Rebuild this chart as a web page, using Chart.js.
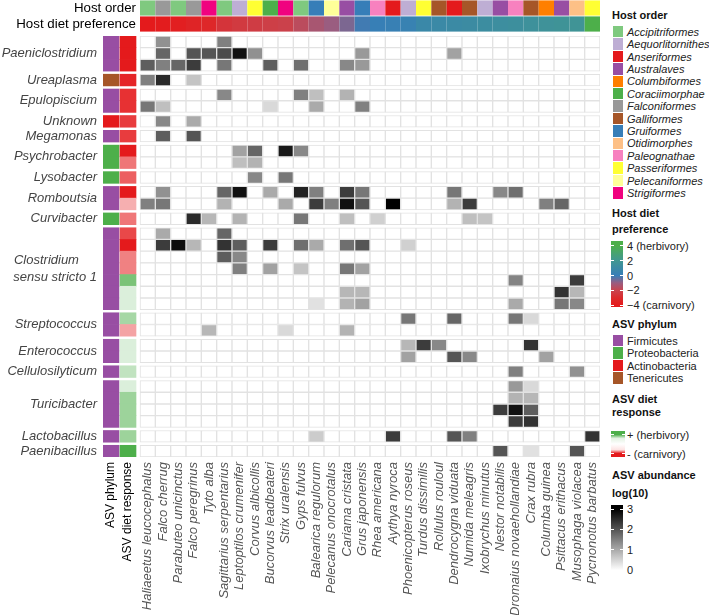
<!DOCTYPE html>
<html>
<head>
<meta charset="utf-8">
<script src="https://cdn.jsdelivr.net/npm/chart.js@4.4.1/dist/chart.umd.min.js"></script>
<style>
  body { margin: 0; background: #fff; font-family: "Liberation Sans", Arial, sans-serif; }
  #wrap { position: relative; width: 709px; height: 615px; overflow: hidden; }
  #topBox { position: absolute; left: 0; top: 0; width: 600px; height: 32px; }
  #mainBox { position: absolute; left: 0; top: 33px; width: 600px; height: 582px; }
  .lg { position: absolute; font-size: 11px; line-height: 14px; color: #222; white-space: nowrap; }
  .lt { font-weight: bold; color: #111; }
  .it { font-style: italic; }
  .bx { position: absolute; }
</style>
</head>
<body>
<div id="wrap">
  <div id="topBox"><canvas id="topChart"></canvas></div>
  <div id="mainBox"><canvas id="mainChart"></canvas></div>
</div>
<script>
// ---- data ----
const hosts = ["Haliaeetus leucocephalus", "Falco cherrug", "Parabuteo unicinctus", "Falco peregrinus", "Tyto alba",
  "Sagittarius serpentarius", "Leptoptilos crumenifer", "Corvus albicollis", "Bucorvus leadbeateri", "Strix uralensis",
  "Gyps fulvus", "Balearica regulorum", "Pelecanus onocrotalus", "Cariama cristata", "Grus japonensis",
  "Rhea americana", "Aythya nyroca", "Phoenicopterus roseus", "Turdus dissimilis", "Rollulus rouloul",
  "Dendrocygna viduata", "Numida meleagris", "Ixobrychus minutus", "Nestor notabilis", "Dromaius novaehollandiae",
  "Crax rubra", "Columba guinea", "Psittacus erithacus", "Musophaga violacea", "Pycnonotus barbatus"];

const hostOrder = ["Accipitriformes", "Falconiformes", "Accipitriformes", "Falconiformes", "Strigiformes",
  "Accipitriformes", "Aequorlitornithes", "Passeriformes", "Coraciimorphae", "Strigiformes",
  "Accipitriformes", "Gruiformes", "Pelecaniformes", "Australaves", "Gruiformes",
  "Paleognathae", "Anseriformes", "Aequorlitornithes", "Passeriformes", "Galliformes",
  "Anseriformes", "Galliformes", "Aequorlitornithes", "Australaves", "Paleognathae",
  "Galliformes", "Columbiformes", "Australaves", "Otidimorphes", "Passeriformes"];

const hostDiet = [-4.0, -3.9, -3.7, -3.4, -3.2, -2.6, -2.4, -2.3, -2.2, -2.1,
  -1.7, -1.3, -1.0, -0.7, -0.1, 0.1, 0.2, 0.3, 0.8, 0.9,
  1.0, 1.1, 1.2, 1.3, 1.4, 1.5, 1.6, 1.7, 1.8, 4.0];

const genera = ["Paeniclostridium", "Ureaplasma", "Epulopiscium", "Unknown", "Megamonas", "Psychrobacter",
  "Lysobacter", "Romboutsia", "Curvibacter", "Clostridium sensu stricto 1", "Streptococcus", "Enterococcus",
  "Cellulosilyticum", "Turicibacter", "Lactobacillus", "Paenibacillus"];
const genusRows = [3, 1, 2, 1, 1, 2, 1, 2, 1, 7, 2, 2, 1, 4, 1, 1];
const genusPhylum = ["Firmicutes", "Tenericutes", "Firmicutes", "Actinobacteria", "Firmicutes", "Proteobacteria",
  "Proteobacteria", "Firmicutes", "Proteobacteria", "Firmicutes", "Firmicutes", "Firmicutes",
  "Firmicutes", "Firmicutes", "Firmicutes", "Firmicutes"];

// ASV diet response, one per row (- carnivory, + herbivory)
const dietResponse = [-1, -1, -1, -0.95, -0.9, -0.9, -0.85, -0.85, -1, -0.6, -0.7, -1, -0.35, -0.6,
  -0.8, -1, -0.55, -0.55, 0.75, 0.2, 0.2, 0.5, -0.4, 0.2, 0.2, 0.35, 0.2, 0.55, 0.55, 0.55, 0.55, 1];

// ASV abundance log(10), rows x hosts
const abundance = [
  [0,1.3,0,0,0,1.5,0,0,0,0, 0,0,0,0,0,0,0,0,0,0, 0,0,0,0,0,0,0,0,0,0],
  [0,1.8,0,2.0,2.0,2.1,2.8,1.3,0,0, 0,0,0,0,1.2,0,0,0,0,0, 1.1,0,0,0,0,0,0,0,0,0],
  [1.9,1.5,1.8,2.3,0,1.6,0,0,1.9,0, 1.7,0,0,1.4,1.2,0,0,0,0,0, 0,0,0,0,0,0,0,0,0,0],
  [1.5,2.5,0,0.7,0,0,0,0,0,0, 0,0,0,0,0,0,0,0,0,0, 0,0,0,0,0,0,0,0,0,0],
  [0,0,0,0,0,1.4,0,0,0,0, 1.5,0.75,0,0.9,0,0,0,0,0,0, 0,0,0,0,0,0,0,0,0,0],
  [1.6,0.75,0,0,0,0,0,0,0.45,0, 0,1.0,0,0,1.5,0,0,0,0,0, 0,0,0,0,0,0,0,0,0,0],
  [0,1.4,0,1.0,0,0,0,0,0,0, 0,0,0,0,0,0,0,0,0,0, 0,0,0,0,0,0,0,0,0,0],
  [0,1.9,0,2.0,0,0,0,0,0,0, 0,0,0,0,0,0,0,0,0,0, 0,0,0,0,0,0,0,0,0,0],
  [0,0,0,0,0,0,1.1,1.8,0,2.7, 1.4,0,0,0,0,0,0,0,0,0, 0,0,0,0,0,0,0,0,0,0],
  [0,0,0,0,0,0,0.75,0.9,0,0, 0,0,0,0,0,0,0,0,0,0, 0,0,0,0,0,0,0,0,0,0],
  [0,0,0,0,0,0,0,1.4,0,1.6, 0,0,0,0,0,0,0,0,0,0, 0,0,0,0,0,0,0,0,0,0],
  [0,1.3,0,0,0,1.8,2.8,0,1.0,0, 2.6,1.5,0,2.3,1.6,0,0,0,0,0, 1.6,0,0,1.4,1.7,0,0,0,0,0],
  [1.5,1.6,0,0,0,0.9,0,0,0,1.0, 0,2.3,1.5,2.8,2.0,0,3.0,0,0,0, 0.9,2.3,0,0,0,0,1.5,1.8,0,0],
  [0,0,0,2.5,0.85,0,0.9,0,0,0, 1.6,0,0,0.75,0,0.55,0,0,0,0, 0,0.75,0.7,0,0,0,0,0,0,0],
  [0,1.0,0,0,0,1.8,0,0,0,0, 0,0,0,0,0,0,0,0,0,0, 0,0,0,0,0,0,0,0,0,0],
  [0,2.3,2.85,0.85,0,2.4,1.9,0,2.3,0, 1.7,1.0,0,1.7,2.0,0,0,0.55,0,0, 0,0,0,0,0,0,0,0,0,0],
  [0,0,0,0,0,1.9,1.4,0,0,0, 0,0,0,0,0,0,0,0,0,0, 0,0,0,0,0,0,0,0,0,0],
  [0,0,0,0,0,0,1.5,0,1.1,0, 0.7,0,0,1.6,1.1,0,0,0,0,0, 0,0,0,0,0,0,0,0,0,0],
  [0,0,0,0,0,0,0,0,0,0, 0,0,0,0,0,0,0,0,0,0, 0,0,0,0,1.45,0,0,0,2.3,0],
  [0,0,0,0,0,0,0,0,0,0, 0,0,0,0.85,0.85,0,0,0,0,0, 0,0,0,0,0,0,0,2.4,0.85,0],
  [0,0,0,0,0,0,0,0,0,0, 0,0.35,0,0.9,1.1,0,0,0,0,0, 0,0,0,0,1.0,0,0,1.6,1.4,0],
  [0,0,0,0,0,0,0,0,0,0, 0,0,0,0,0,0,0,1.6,0,0, 1.8,0,0,0,1.6,0.45,0,0,0,0],
  [0,0,0,0,0.85,0,0,0,0,0.45, 0,0,0,0.9,0,0,0,0,0,0, 0,0,0,0,0,0,0,0,0,0],
  [0,0,0,0,0,0,0,0,0,0, 0,0,0,0,0,0,0,0.85,2.3,1.4, 0,0,0,0,0,2.4,0,0,0,0],
  [0,0,0,0,0,0,0,0,0,0, 0,0,0,0,0,0,0,1.1,0,0, 2.0,1.4,0,0,0,0,1.1,0,0,0],
  [0,0,0,0,0,0,0,0,0,0, 0,0,0,0,0,0,0,0,0,0, 0,0,0,0,1.5,0,0,0,1.3,0],
  [0,0,0,0,0,0,0,0,0,0, 0,0,0,0,0,0,0,0,0,0, 0,0,0,0,1.2,0.45,0,0,0,0],
  [0,0,0,0,0,0,0,0,0,0, 0,0,0,0,0,0,0,0,0,0, 0,0,0,0,0.9,0.85,0,0,0,0],
  [0,0,0,0,0,0,0,0,0,0, 0,0,0,0,0,0,0,0,0,0, 0,0,0,2.3,2.8,1.9,0,0,0,0],
  [0,0,0,0,0,0,0,0,0,0, 0,0,0,0,0,0,0,0,0,0, 0,0,0,0,2.3,2.4,0,0,0,0],
  [0,0,0,0,0,0,0,0,0,0, 0,0.6,0,0,0,0,2.3,0,0,0, 2.0,1.5,0,0,0,0,0,0,0,2.4],
  [0,0,0,0,0,0,0,0,0,0, 0,0,0,0,0,0,0,0,0,0, 0,0,0,2.0,0,0.35,0,0,2.0,0]
];

const orderNames = ["Accipitriformes", "Aequorlitornithes", "Anseriformes", "Australaves", "Columbiformes",
  "Coraciimorphae", "Falconiformes", "Galliformes", "Gruiformes", "Otidimorphes", "Paleognathae",
  "Passeriformes", "Pelecaniformes", "Strigiformes"];
const phylumNames = ["Firmicutes", "Proteobacteria", "Actinobacteria", "Tenericutes"];
const dietTicks = [4, 2, 0, -2, -4];
const abundanceTicks = [3, 2, 1, 0];

// ---- styles ----
const FONT = '"Liberation Sans", Arial, Helvetica, sans-serif';
const orderColors = ["#7FC97F", "#BEAED4", "#E41A1C", "#984EA3", "#FF7F00", "#4DAF4A", "#999999",
  "#A65628", "#377EB8", "#FDC086", "#F781BF", "#FFFF33", "#FFFF99", "#F0027F"];
const phylumColors = ["#984EA3", "#4DAF4A", "#E41A1C", "#A65628"];
const dietStops = [[-4, "#E41A1C"], [-3, "#DC2A2C"], [-2, "#C9444E"], [-1, "#9A5D80"], [0, "#377EB8"],
  [1, "#3B8AA4"], [2, "#419792"], [3, "#47A370"], [4, "#4DAF4A"]];
const ROW_GAP = 0.265;
const X_MIN = -2.413;
const PHY_X = [-2.413, -1.37];
const RESP_X = [-1.305, -0.261];

const hex = h => [1, 3, 5].map(i => parseInt(h.substr(i, 2), 16));
const rgb = a => `rgb(${a.map(Math.round).join(",")})`;
const mix = (a, b, t) => a.map((v, i) => v + (b[i] - v) * t);

function dietColor(v) {
  for (let i = 1; i < dietStops.length; i++) {
    if (v <= dietStops[i][0]) {
      const [v0, c0] = dietStops[i - 1], [v1, c1] = dietStops[i];
      return rgb(mix(hex(c0), hex(c1), (v - v0) / (v1 - v0)));
    }
  }
  return dietStops[dietStops.length - 1][1];
}
const responseColor = v => rgb(mix([255, 255, 255], hex(v < 0 ? "#E41A1C" : "#4DAF4A"), Math.abs(v)));
const grayFor = v => { const g = 255 * (1 - v / 3); return rgb([g, g, g]); };

// ---- row layout ----
const rowCenters = [], rowGenus = [], groupCenters = [];
let pos = 0;
genusRows.forEach((n, g) => {
  groupCenters.push(pos + n / 2);
  for (let r = 0; r < n; r++) { rowCenters.push(pos + r + 0.5); rowGenus.push(g); }
  pos += n + (g < genusRows.length - 1 ? ROW_GAP : 0);
});
const Y_MAX = pos;

const cells = [];
rowCenters.forEach((yc, r) => {
  cells.push({ x: PHY_X, y: yc, fill: phylumColors[phylumNames.indexOf(genusPhylum[rowGenus[r]])], cell: false });
  cells.push({ x: RESP_X, y: yc, fill: responseColor(dietResponse[r]), cell: false });
  abundance[r].forEach((v, c) => cells.push({ x: [c, c + 1], y: yc, fill: grayFor(v), cell: true }));
});

const xTickVals = [(PHY_X[0] + PHY_X[1]) / 2, (RESP_X[0] + RESP_X[1]) / 2].concat(hosts.map((h, i) => i + 0.5));
const xLabels = ["ASV phylum", "ASV diet response"].concat(hosts);
const yLabels = genera.map(g => g === "Clostridium sensu stricto 1" ? ["Clostridium     ", "sensu stricto 1"] : g);

Chart.defaults.font.family = FONT;

const noGrid = { display: false, drawTicks: false };
// keep the scales from reserving room for edge labels
const noPadY = s => { s.paddingTop = 0; s.paddingBottom = 0; };
const noPadX = s => { s.paddingLeft = 0; s.paddingRight = 0; };

new Chart(document.getElementById("mainChart"), {
  type: "bar",
  data: {
    datasets: [{
      data: cells,
      backgroundColor: c => c.raw.fill,
      borderColor: "#e2e2e2",
      borderWidth: c => c.raw.cell ? 1 : 0,
      borderSkipped: false,
      grouped: false,
      barPercentage: 1,
      categoryPercentage: 1
    }]
  },
  options: {
    indexAxis: "y",
    responsive: true,
    maintainAspectRatio: false,
    animation: false,
    layout: { autoPadding: false, padding: { top: 3, left: 0, right: 0, bottom: 0 } },
    plugins: { legend: { display: false }, tooltip: { enabled: false } },
    scales: {
      x: {
        type: "linear", min: X_MIN, max: 30, offset: false,
        grid: noGrid, border: { display: false },
        afterBuildTicks: s => { s.ticks = xTickVals.map(v => ({ value: v })); },
        afterFit: s => { s.height = 158; noPadX(s); },
        ticks: {
          autoSkip: false, minRotation: 90, maxRotation: 90, padding: 5,
          callback: (v, i) => xLabels[i],
          color: c => c.index < 2 ? "#000" : "#555",
          font: c => c.index < 2 ? { size: 12 } : { size: 13, style: "italic" }
        }
      },
      y: {
        type: "linear", reverse: true, min: 0, max: Y_MAX, offset: false,
        grid: noGrid, border: { display: false },
        afterBuildTicks: s => { s.ticks = groupCenters.map(v => ({ value: v })); },
        afterFit: s => { s.width = 103; noPadY(s); },
        ticks: {
          autoSkip: false, padding: 6,
          callback: (v, i) => yLabels[i],
          color: "#444",
          font: { size: 13, style: "italic", lineHeight: 1.28 }
        }
      }
    }
  }
});

// top annotation: host order and host diet preference
const topCells = [];
hosts.forEach((h, i) => {
  topCells.push({ x: [i, i + 1], y: "Host order", fill: orderColors[orderNames.indexOf(hostOrder[i])] });
  topCells.push({ x: [i, i + 1], y: "Host diet preference", fill: dietColor(hostDiet[i]) });
});

new Chart(document.getElementById("topChart"), {
  type: "bar",
  data: {
    labels: ["Host order", "Host diet preference"],
    datasets: [{
      data: topCells,
      backgroundColor: c => c.raw.fill,
      borderWidth: 0,
      barPercentage: 0.95,
      categoryPercentage: 1
    }]
  },
  options: {
    indexAxis: "y",
    responsive: true,
    maintainAspectRatio: false,
    animation: false,
    layout: { autoPadding: false, padding: 0 },
    plugins: { legend: { display: false }, tooltip: { enabled: false } },
    scales: {
      x: { type: "linear", min: 0, max: 30, display: false },
      y: {
        type: "category", grid: noGrid, border: { display: false },
        afterFit: s => { s.width = 140; noPadY(s); },
        ticks: { autoSkip: false, padding: 4, color: "#000", font: { size: 13.3 } }
      }
    }
  }
});

// ---- legend (html) ----
const wrap = document.getElementById("wrap");
function txt(t, x, cy, cls) {
  const d = document.createElement("div");
  d.className = "lg " + (cls || "");
  d.textContent = t;
  d.style.left = x + "px";
  d.style.top = (cy - 7) + "px";
  wrap.appendChild(d);
}
function box(x, y, w, h, bg) {
  const d = document.createElement("div");
  d.className = "bx";
  Object.assign(d.style, { left: x + "px", top: y + "px", width: w + "px", height: h + "px", background: bg });
  wrap.appendChild(d);
}
function dashes(x, w, ys) {
  ys.forEach(y => { box(x, y - 0.5, 3, 1, "#fff"); box(x + w - 3, y - 0.5, 3, 1, "#fff"); });
}

txt("Host order", 612, 15, "lt");
orderNames.forEach((n, i) => {
  const cy = 31.7 + i * 12.4;
  box(613, cy - 5.8, 10, 11.6, orderColors[i]);
  txt(n, 627, cy, "it");
});

txt("Host diet", 612, 212.7, "lt");
txt("preference", 612, 229, "lt");
const dTop = 241, dH = 66, dY = v => 245.7 + (4 - v) / 8 * 59.6;
box(611, dTop, 12, dH, "linear-gradient(to bottom," +
  dietStops.slice().reverse().map(s => `${s[1]} ${((dY(s[0]) - dTop) / dH * 100).toFixed(1)}%`).join(",") + ")");
dashes(611, 12, dietTicks.map(dY));
dietTicks.forEach(v => txt(v === 4 ? "4 (herbivory)" : v === -4 ? "\u22124 (carnivory)" : (v < 0 ? "\u2212" + (-v) : String(v)), 627, dY(v)));

txt("ASV phylum", 612, 324, "lt");
phylumNames.forEach((n, i) => {
  const cy = 340.7 + i * 12.4;
  box(613, cy - 5.8, 10, 11.6, phylumColors[i]);
  txt(n, 627, cy);
});

txt("ASV diet", 612, 399.3, "lt");
txt("response", 612, 412, "lt");
box(611, 431, 14, 26, "linear-gradient(to bottom,#4DAF4A 0%,#4DAF4A 14%,#e4f2e3 28%,#fff 50%,#fde4e4 72%,#E41A1C 86%,#E41A1C 100%)");
dashes(611, 14, [434.5, 453.5]);
txt("+ (herbivory)", 627, 434.5);
txt("- (carnivory)", 627, 453.5);

txt("ASV abundance", 612, 475, "lt");
txt("log(10)", 612, 492.7, "lt");
const aY = v => 509 + (3 - v) / 3 * 61;
box(611, 505, 12, 68, "linear-gradient(to bottom,#000 6%,#fff 96%)");
dashes(611, 12, abundanceTicks.map(aY));
abundanceTicks.forEach(v => txt(String(v), 627, aY(v)));
</script>
</body>
</html>
